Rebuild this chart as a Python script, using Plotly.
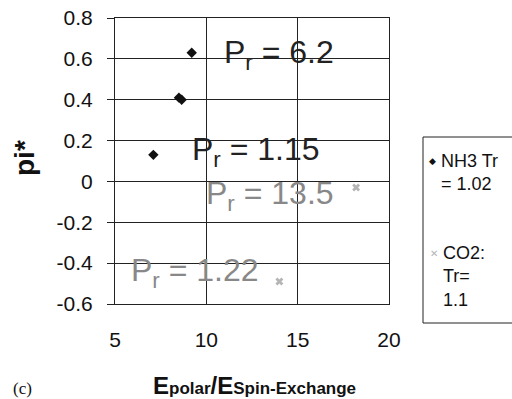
import plotly.graph_objects as go

# ---- data ----
nh3_x = [9.2, 8.65, 8.5, 7.1]
nh3_y = [0.63, 0.40, 0.41, 0.13]
co2_x = [18.2, 14.0]
co2_y = [-0.03, -0.49]

ann_text = ["P<sub>r</sub> = 6.2", "P<sub>r</sub> = 1.15", "P<sub>r</sub> = 13.5", "P<sub>r</sub> = 1.22"]
ann_x = [14.0, 12.7, 13.5, 9.4]
ann_y = [0.62, 0.145, -0.07, -0.445]
ann_color = ["#222222", "#222222", "#888888", "#888888"]

xticks = [5, 10, 15, 20]
yticks = [0.8, 0.6, 0.4, 0.2, 0, -0.2, -0.4, -0.6]
yticklabels = ["0.8", "0.6", "0.4", "0.2", "0", "-0.2", "-0.4", "-0.6"]

FONT = "Arial, Liberation Sans, sans-serif"
W, H = 512, 399
L, R, T, B = 115, 389, 18, 304


def px(xp):
    return (xp - L) / (R - L)


def py(yp):
    return (B - yp) / (B - T)


fig = go.Figure()
fig.add_trace(go.Scatter(x=nh3_x, y=nh3_y, mode="markers", name="NH3 Tr = 1.02",
                         marker=dict(symbol="diamond", size=8, color="#111111"),
                         showlegend=False))
fig.add_trace(go.Scatter(x=co2_x, y=co2_y, mode="markers", name="CO2: Tr= 1.1",
                         marker=dict(symbol="x", size=7, color="#b5b5b5"),
                         showlegend=False))

for t, x, y, c in zip(ann_text, ann_x, ann_y, ann_color):
    fig.add_annotation(x=x, y=y, text=t, showarrow=False, xref="x", yref="y",
                       font=dict(family=FONT, size=32, color=c))

# manual legend
fig.add_shape(type="rect", xref="paper", yref="paper",
              x0=px(423), x1=px(540), y0=py(323), y1=py(137),
              line=dict(color="#222222", width=1), fillcolor="white")
fig.add_annotation(xref="paper", yref="paper", x=px(432), y=py(161), text="◆",
                   xanchor="center", yanchor="middle",
                   showarrow=False, font=dict(family="DejaVu Sans", size=9, color="#111111"))
fig.add_annotation(xref="paper", yref="paper", x=px(434), y=py(253), text="✕",
                   xanchor="center", yanchor="middle",
                   showarrow=False, font=dict(family="DejaVu Sans", size=10, color="#b5b5b5"))
fig.add_annotation(xref="paper", yref="paper", x=px(439), y=py(149), xanchor="left", yanchor="top",
                   align="left", text="NH3 Tr<br>= 1.02", showarrow=False,
                   font=dict(family=FONT, size=18, color="#111111"))
fig.add_annotation(xref="paper", yref="paper", x=px(441), y=py(241), xanchor="left", yanchor="top",
                   align="left", text="CO2:<br>Tr=<br>1.1", showarrow=False,
                   font=dict(family=FONT, size=18, color="#111111"))

# (c) label
fig.add_annotation(xref="paper", yref="paper", x=px(22), y=py(389), text="(c)", showarrow=False,
                   xanchor="center", yanchor="middle",
                   font=dict(family="Liberation Serif, Times New Roman, serif", size=17, color="#111111"))

# x-axis title
fig.add_annotation(xref="paper", yref="paper", x=px(254), y=py(385), showarrow=False,
                   xanchor="center", yanchor="middle",
                   text="<b>E<span style='font-size:17px'>polar</span>/E<span style='font-size:17px'>Spin-Exchange</span></b>",
                   font=dict(family=FONT, size=24, color="#111111"))
# y-axis title
fig.add_annotation(xref="paper", yref="paper", x=px(24), y=py(158), showarrow=False, textangle=-90,
                   xanchor="center", yanchor="middle",
                   text="<b>pi*</b>", font=dict(family=FONT, size=28, color="#111111"))

fig.update_layout(
    width=W, height=H,
    margin=dict(l=L, r=W - R, t=T, b=H - B, autoexpand=False),
    paper_bgcolor="white", plot_bgcolor="white",
    font=dict(family=FONT, color="#111111"),
    showlegend=False,
)
fig.update_xaxes(range=[5, 20], tickvals=xticks, ticktext=[str(v) for v in xticks],
                 showgrid=True, gridcolor="#222222", gridwidth=1, zeroline=False,
                 showline=True, linecolor="#222222", linewidth=1, mirror=True,
                 ticks="", ticklabelstandoff=17, automargin=False,
                 tickfont=dict(family=FONT, size=21, color="#111111"))
fig.update_yaxes(range=[-0.6, 0.8], tickvals=yticks, ticktext=yticklabels,
                 showgrid=True, gridcolor="#222222", gridwidth=1, zeroline=False,
                 showline=True, linecolor="#222222", linewidth=1, mirror=True,
                 ticks="outside", ticklen=7, tickcolor="#222222", ticklabelstandoff=10,
                 automargin=False,
                 tickfont=dict(family=FONT, size=21, color="#111111"))

fig.write_html("out.html", config={"displayModeBar": False},
               post_script="document.body.style.margin='0';")
